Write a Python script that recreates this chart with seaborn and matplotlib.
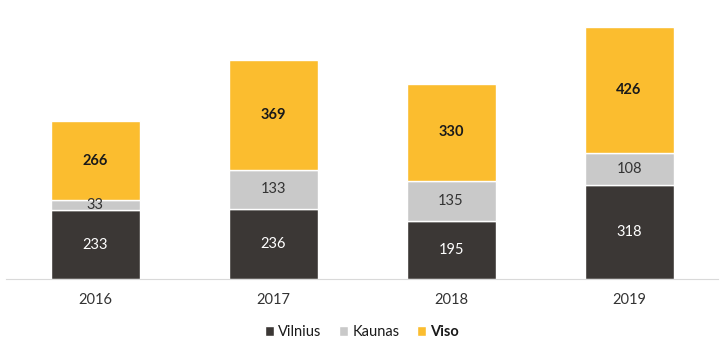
import numpy as np
import pandas as pd
import matplotlib
matplotlib.use("Agg")
import matplotlib.pyplot as plt
import seaborn as sns

years = ["2016", "2017", "2018", "2019"]
vilnius = [233, 236, 195, 318]
kaunas = [33, 133, 135, 108]
viso = [266, 369, 330, 426]

colors = {"Vilnius": "#3b3735", "Kaunas": "#c9c9c9", "Viso": "#fbbd2f"}
text_colors = {"Vilnius": "white", "Kaunas": "#333333", "Viso": "#1a1a1a"}

sns.set_style("white")
plt.rcParams["font.family"] = ["Lato", "DejaVu Sans"]

fig = plt.figure(figsize=(7.26, 3.62), dpi=100)
ax = fig.add_axes([6 / 726, 1 - 279 / 362, 712 / 726, 265 / 362])

df = pd.DataFrame({"year": years, "Vilnius": vilnius, "Kaunas": kaunas, "Viso": viso})
bottom = np.zeros(len(years))
for name in ["Vilnius", "Kaunas", "Viso"]:
    sns.barplot(data=df, x="year", y=name, bottom=bottom, color=colors[name],
                width=0.5, saturation=1, ax=ax, label=name)
    for i, v in enumerate(df[name]):
        ax.text(i, bottom[i] + v / 2, str(v), ha="center", va="center",
                fontsize=10.5, color=text_colors[name],
                fontweight="bold" if name == "Viso" else "normal")
    bottom = bottom + df[name].values

ax.set_ylim(0, 895)
ax.set_xlim(-0.5, 3.5)
ax.set_xlabel("")
ax.set_ylabel("")
ax.set_yticks([])
for s in ["top", "right", "left"]:
    ax.spines[s].set_visible(False)
ax.spines["bottom"].set_color("#d9d9d9")
ax.tick_params(axis="x", length=0, pad=10, labelsize=10.5, colors="#333333")

leg = ax.legend(loc="upper center", bbox_to_anchor=(0.5, -0.125), ncol=3, frameon=False,
                fontsize=10.5, handlelength=0.6, handleheight=0.6, handletextpad=0.3,
                columnspacing=1.2)
for t in leg.get_texts():
    t.set_color("#1a1a1a")
leg.get_texts()[2].set_fontweight("bold")

fig.savefig("out.png", dpi=100)
